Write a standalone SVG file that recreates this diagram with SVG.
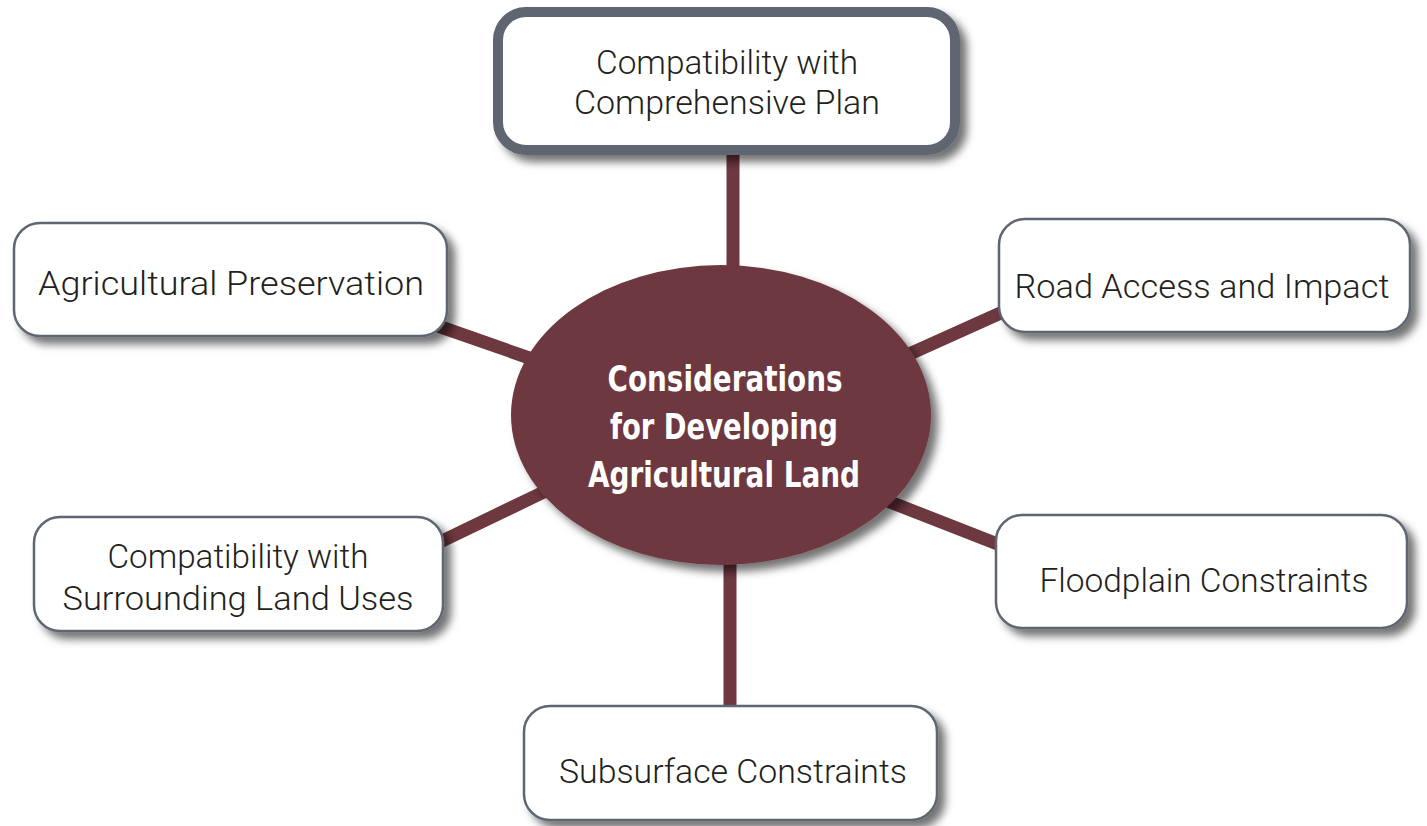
<svg xmlns="http://www.w3.org/2000/svg" width="1427" height="826" viewBox="0 0 1427 826">
<defs>
<filter id="sh" x="-10%" y="-10%" width="130%" height="140%">
<feDropShadow dx="7" dy="7" stdDeviation="4.5" flood-color="#000" flood-opacity="0.55"/>
</filter>
<style>
.box{fill:#fff;stroke:#5f6672;stroke-width:2.5;filter:url(#sh)}
.lbl{font-family:Roboto,"Liberation Sans",Arial,sans-serif;font-weight:300;font-size:33px;fill:#231f20;text-anchor:middle}
.ctr{font-family:"DejaVu Sans Condensed","Liberation Sans",sans-serif;font-weight:bold;font-size:36px;fill:#fff;text-anchor:middle}
.con{stroke:#6e3840;stroke-width:13;fill:none}
</style>
</defs>
<rect width="1427" height="826" fill="#fff"/>
<g id="connectors">
<line class="con" x1="733" y1="150" x2="733" y2="280"/>
<line class="con" x1="730" y1="555" x2="730" y2="710"/>
<line class="con" x1="438" y1="326" x2="535" y2="360"/>
<line class="con" x1="905" y1="356" x2="1005" y2="311"/>
<line class="con" x1="440" y1="542" x2="548" y2="490"/>
<line class="con" x1="885" y1="500" x2="1000" y2="545"/>
</g>
<g id="center">
<ellipse cx="721" cy="415" rx="210" ry="150" fill="#6e3840" filter="url(#sh)"/>
<text class="ctr" x="725" y="391" textLength="235" lengthAdjust="spacingAndGlyphs">Considerations</text>
<text class="ctr" x="724" y="439" textLength="228" lengthAdjust="spacingAndGlyphs">for Developing</text>
<text class="ctr" x="724" y="487" textLength="272" lengthAdjust="spacingAndGlyphs">Agricultural Land</text>
</g>
<g id="node-top">
<rect x="498" y="12" width="457" height="138" rx="28" fill="#fff" stroke="#5f6672" stroke-width="10" filter="url(#sh)"/>
<text class="lbl" x="727" y="74" textLength="262" lengthAdjust="spacingAndGlyphs">Compatibility with</text>
<text class="lbl" x="727" y="114" textLength="306" lengthAdjust="spacingAndGlyphs">Comprehensive Plan</text>
</g>
<g id="node-agri">
<rect class="box" x="14" y="223" width="433" height="113" rx="26"/>
<text class="lbl" x="231" y="295" textLength="386" lengthAdjust="spacingAndGlyphs">Agricultural Preservation</text>
</g>
<g id="node-road">
<rect class="box" x="999" y="219" width="411" height="113" rx="26"/>
<text class="lbl" x="1202" y="298" textLength="375" lengthAdjust="spacingAndGlyphs">Road Access and Impact</text>
</g>
<g id="node-surround">
<rect class="box" x="34" y="517" width="409" height="114" rx="26"/>
<text class="lbl" x="238" y="568" textLength="261" lengthAdjust="spacingAndGlyphs">Compatibility with</text>
<text class="lbl" x="238" y="610" textLength="351" lengthAdjust="spacingAndGlyphs">Surrounding Land Uses</text>
</g>
<g id="node-flood">
<rect class="box" x="996" y="515" width="411" height="113" rx="26"/>
<text class="lbl" x="1204" y="592" textLength="329" lengthAdjust="spacingAndGlyphs">Floodplain Constraints</text>
</g>
<g id="node-subsurface">
<rect class="box" x="524" y="706" width="413" height="114" rx="26"/>
<text class="lbl" x="733" y="783" textLength="348" lengthAdjust="spacingAndGlyphs">Subsurface Constraints</text>
</g>
</svg>
